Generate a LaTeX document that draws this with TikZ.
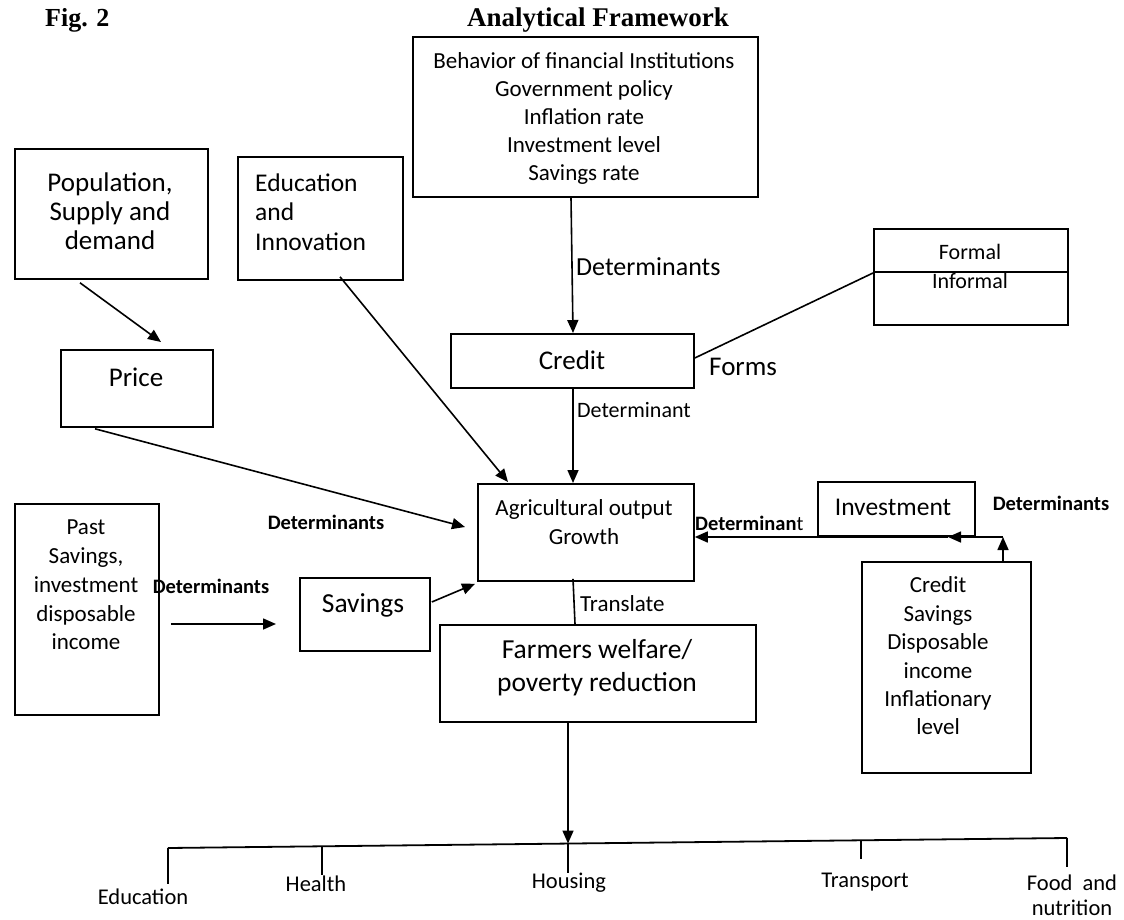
\documentclass[tikz,border=0pt]{standalone}
\usepackage{fontspec}
\setmainfont{Carlito}
\newfontfamily\titlefont{Liberation Serif}
\usetikzlibrary{arrows.meta,calc}
\newcommand\setfs[2]{\fontsize{#1}{#2}\selectfont}
\tikzset{
  bx/.style={draw, line width=1.8pt, inner sep=0pt, anchor=north west},
  conn/.style={line width=1.6pt},
  arr/.style={conn, -{Triangle[length=13pt,width=11pt]}},
  txt/.style={inner sep=0pt, align=center},
  lbl/.style={inner sep=0pt, anchor=west},
  bl/.style={inner sep=0pt, font=\setfs{20.5}{24}\bfseries},
}
\begin{document}
\begin{tikzpicture}[x=1pt,y=-1pt]
\fill[white] (0,0) rectangle (1124,920);
\useasboundingbox (0,0) rectangle (1124,920);

% titles
\node[inner sep=0pt, anchor=base west, font=\titlefont\bfseries\setfs{26}{30}] (fig) at (45,27) {Fig. 2};
\node[inner sep=0pt, anchor=base, font=\titlefont\bfseries\setfs{27}{30}] (ttl) at (598,27) {Analytical Framework};

% boxes
\node[bx, minimum width=193pt, minimum height=130pt] (pop) at (14,148) {};
\node[bx, minimum width=165pt, minimum height=123pt] (edu) at (237,156) {};
\node[bx, minimum width=345pt, minimum height=160pt] (top) at (412,36) {};
\node[bx, minimum width=194pt, minimum height=96pt] (formal) at (873,228) {};
\node[bx, minimum width=152pt, minimum height=77pt] (price) at (60,349) {};
\node[bx, minimum width=243pt, minimum height=54pt] (credit) at (450,333) {};
\node[bx, minimum width=216pt, minimum height=97pt] (agri) at (477,483) {};
\node[bx, minimum width=144pt, minimum height=211pt] (past) at (14,503) {};
\node[bx, minimum width=130pt, minimum height=73pt] (sav) at (299,577) {};
\node[bx, minimum width=316pt, minimum height=97pt] (farm) at (439,624) {};
\node[bx, minimum width=157pt, minimum height=54pt] (inv) at (817,481) {};
\node[bx, minimum width=169pt, minimum height=211pt] (rbox) at (861,561) {};
\draw[line width=1.8pt] (formal.north west) ++(0,44) -- ++(194,0);

% box texts
\node[txt, font=\setfs{27}{29}] (popt) at (110,211) {Population,\\Supply and\\demand};
\node[txt, align=left, anchor=west, font=\setfs{25.5}{29.5}] (edut) at (255,212) {Education\\and\\Innovation};
\node[txt, font=\setfs{23}{28}] (topt) at (584,118) {Behavior of financial Institutions\\Government policy\\Inflation rate\\Investment level\\Savings rate};
\node[txt, font=\setfs{22}{26}] (formt) at (970,252) {Formal};
\node[txt, font=\setfs{22}{26}] (informt) at (970,281) {Informal};
\node[txt, font=\setfs{27}{30}] (pricet) at (136,377) {Price};
\node[txt, font=\setfs{27}{30}] (credt) at (572,360) {Credit};
\node[txt, font=\setfs{23}{29}] (agrit) at (584,522) {Agricultural output\\Growth};
\node[txt, font=\setfs{23}{28.7}] (pastt) at (86,585) {Past\\Savings,\\investment\\disposable\\income};
\node[txt, font=\setfs{27.5}{30}] (savt) at (363,605) {Savings};
\node[txt, font=\setfs{27.5}{33}] (farmt) at (597,668) {Farmers welfare/\\poverty reduction};
\node[txt, font=\setfs{25.5}{30}] (invt) at (893,507) {Investment};
\node[txt, font=\setfs{23}{28.4}] (rboxt) at (938,656) {Credit\\Savings\\Disposable\\income\\Inflationary\\level};

% connector labels
\node[lbl, font=\setfs{26}{30}] (ldet1) at (576,267) {Determinants};
\node[lbl, font=\setfs{22}{26}] (ldet2) at (577,410) {Determinant};
\node[lbl, font=\setfs{27}{30}] (lforms) at (709,367) {Forms};
\node[lbl, font=\setfs{23}{26}] (ltrans) at (580,604) {Translate};
\node[bl] (ldet3) at (326,522) {Determinants};
\node[bl] (ldet4) at (211,586) {Determinants};
\node[bl] (ldet5) at (1051,503) {Determinants};
\node[bl, anchor=west] (ldet6) at (695,523) {Determinan\mdseries t};

% connectors
\draw[arr] ($(pop.south west)+(66,3)$) -- ($(price.north west)+(101,-7)$);
\draw[arr] ($(edu.south west)+(103,-4)$) -- ($(agri.north west)+(31,-1)$);
\draw[arr] ($(top.south west)+(159,0)$) -- ($(credit.north west)+(123,0)$);
\draw[arr] ($(credit.south west)+(123,0)$) -- ($(agri.north west)+(96,0)$);
\draw[conn] ($(credit.north east)+(0,25)$) -- ($(formal.north west)+(0,45)$);
\draw[arr] ($(price.south west)+(35,1)$) -- ($(agri.north west)+(-12,44)$);
\draw[arr] ($(sav.north east)+(1,25)$) -- ($(agri.south west)+(-2,2)$);
\draw[arr] ($(past.north east)+(11,121)$) -- ($(sav.north west)+(-23,47)$);
\draw[conn] ($(agri.south west)+(96,-3)$) -- ($(farm.north west)+(136,0)$);

\coordinate (jn) at (1003,537);
\coordinate (mid) at (948,537);
\draw[arr] ($(rbox.north west)+(142,0)$) -- (jn);
\draw[arr] (jn) -- (mid);
\draw[arr] (mid) -- ($(agri.north east)+(0,54)$);

% bottom tree
\coordinate (tl) at (168,848);
\coordinate (tr) at (1067,838);
\coordinate (hub) at (568,843.5);
\draw[arr] ($(farm.south west)+(129,0)$) -- (hub);
\draw[line width=1.8pt] (tl) -- (tr);
\draw[conn] (tl) -- ++(0,36);
\draw[conn] (322,846.3) -- (322,875);
\draw[conn] (hub) -- (568,873);
\draw[conn] (861,840.3) -- (861,859);
\draw[conn] (tr) -- ++(0,29);

\node[txt, font=\setfs{22.5}{25}] (bedu) at (143,897) {Education};
\node[txt, font=\setfs{22.5}{25}] (bhea) at (316,884) {Health};
\node[txt, font=\setfs{22.5}{25}] (bhou) at (569,883) {Housing};
\node[txt, font=\setfs{22.5}{25}] (btra) at (865,882) {Transport};
\node[txt, font=\setfs{22.5}{25}] (bfoo) at (1072,895) {Food\ \ and\\nutrition};
\end{tikzpicture}
\end{document}
